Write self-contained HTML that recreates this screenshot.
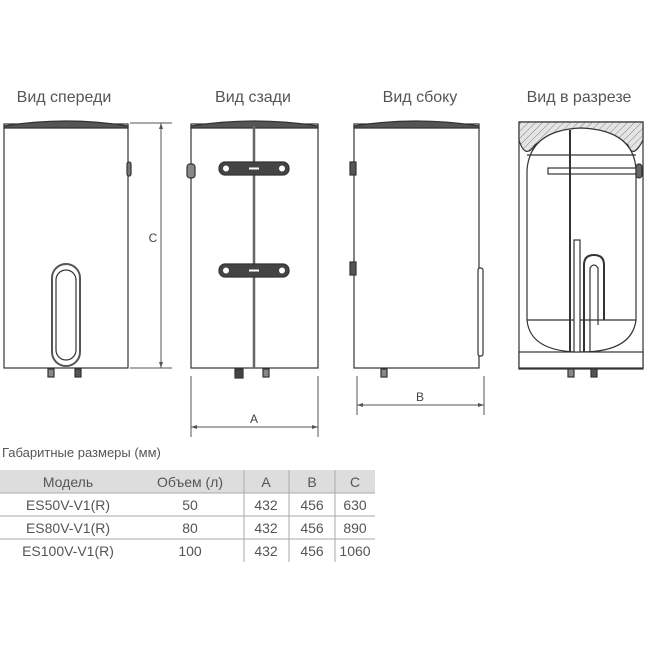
<!DOCTYPE html>
<html><head><meta charset="utf-8"><style>
body{margin:0;background:#fff;}
svg{display:block;font-family:"Liberation Sans","DejaVu Sans",sans-serif;}
</style></head><body>
<svg width="650" height="650" viewBox="0 0 650 650" xmlns="http://www.w3.org/2000/svg">
<defs>
<pattern id="h" width="5" height="5" patternUnits="userSpaceOnUse" patternTransform="rotate(45)"><rect width="5" height="5" fill="#e4e4e4"/><line x1="0" y1="0" x2="0" y2="5" stroke="#888" stroke-width="1"/></pattern>
</defs>
<g font-size="16" fill="#555" text-anchor="middle">
<text x="64" y="102">Вид спереди</text>
<text x="253" y="102">Вид сзади</text>
<text x="420" y="102">Вид сбоку</text>
<text x="579" y="102">Вид в разрезе</text>
</g>
<g stroke="#333" stroke-width="1.2" fill="#fff">
<!-- front -->
<rect x="4" y="124" width="124" height="244"/>
<path d="M4 126 Q66 116 128 126 L128 128 L4 128Z" fill="#555"/>
<rect x="127" y="162" width="4" height="14" rx="2" fill="#777"/>
<rect x="52" y="264" width="28" height="102" rx="14" stroke-width="2" stroke="#555"/>
<rect x="56" y="270" width="20" height="90" rx="10"/>
<rect x="48" y="369" width="6" height="8" fill="#888"/><rect x="75" y="369" width="6" height="8" fill="#555"/>
<!-- back -->
<rect x="191" y="124" width="127" height="244"/>
<path d="M191 126 Q254 116 318 126 L318 128 L191 128Z" fill="#555"/>
<line x1="254" y1="126" x2="254" y2="368" stroke-width="2.5" stroke="#666"/>
<rect x="187" y="164" width="8" height="14" rx="3" fill="#888"/>
<rect x="219" y="162" width="70" height="13" rx="6" fill="#444"/>
<rect x="219" y="264" width="70" height="13" rx="6" fill="#444"/>
<rect x="235" y="369" width="8" height="9" fill="#444"/><rect x="263" y="369" width="6" height="8" fill="#888"/>
<!-- side -->
<rect x="354" y="124" width="125" height="244"/>
<path d="M354 126 Q416 116 479 126 L479 128 L354 128Z" fill="#555"/>
<rect x="350" y="162" width="6" height="13" fill="#555"/>
<rect x="350" y="262" width="6" height="13" fill="#555"/>
<rect x="478" y="268" width="5" height="88" rx="2"/>
<rect x="381" y="369" width="6" height="8" fill="#888"/>
<!-- section -->
<rect x="519" y="122" width="124" height="247"/>
<path d="M519 122 L643 122 L643 140 Q633 160 628 145 Q580 112 535 145 Q525 160 519 140Z" fill="url(#h)"/>
<path d="M527 170 Q530 130 581 128 Q634 130 636 170 L636 320 Q632 352 581 352 Q530 352 527 320Z" fill="#fff"/>
<line x1="527" y1="155" x2="636" y2="155"/>
<line x1="527" y1="320" x2="636" y2="320"/>
<rect x="519" y="352" width="124" height="16" fill="#fff"/>
<rect x="548" y="168" width="88" height="6" fill="#fff"/>
<rect x="636" y="164" width="6" height="14" rx="3" fill="#666"/>
<line x1="570" y1="130" x2="570" y2="352" stroke-width="2"/>
<rect x="574" y="240" width="6" height="112"/>
<path d="M584 352 L584 265 Q584 255 594 255 Q604 255 604 265 L604 320" fill="none" stroke-width="2"/>
<path d="M590 352 L590 268 Q594 262 598 268 L598 325" fill="none"/>
<rect x="568" y="369" width="6" height="8" fill="#888"/><rect x="591" y="369" width="6" height="8" fill="#555"/>
</g>
<g fill="#fff">
<circle cx="226" cy="168.5" r="3"/><circle cx="282" cy="168.5" r="3"/><rect x="249" y="167.5" width="10" height="2"/>
<circle cx="226" cy="270.5" r="3"/><circle cx="282" cy="270.5" r="3"/><rect x="249" y="269.5" width="10" height="2"/>
</g>
<g stroke="#555" stroke-width="1" fill="none">
<line x1="130" y1="123" x2="172" y2="123"/><line x1="130" y1="368" x2="172" y2="368"/>
<line x1="161" y1="123" x2="161" y2="368"/>
<line x1="191" y1="376" x2="191" y2="437"/><line x1="318" y1="376" x2="318" y2="437"/>
<line x1="191" y1="427" x2="318" y2="427"/>
<line x1="357" y1="376" x2="357" y2="415"/><line x1="484" y1="376" x2="484" y2="415"/>
<line x1="357" y1="405" x2="484" y2="405"/>
</g>
<g fill="#555">
<path d="M161 123 l-2 6 h4z"/><path d="M161 368 l-2 -6 h4z"/>
<path d="M191 427 l6 -2 v4z"/><path d="M318 427 l-6 -2 v4z"/>
<path d="M357 405 l6 -2 v4z"/><path d="M484 405 l-6 -2 v4z"/>
</g>
<g font-size="12" fill="#444" text-anchor="middle">
<text x="153" y="242">C</text><text x="254" y="423">A</text><text x="420" y="401">B</text>
</g>
<text x="2" y="457" font-size="13" fill="#555">Габаритные размеры (мм)</text>
<rect x="0" y="470" width="375" height="23" fill="#ddd"/>
<g stroke="#aaa" stroke-width="1">
<line x1="0" y1="493" x2="375" y2="493"/><line x1="0" y1="516" x2="375" y2="516"/><line x1="0" y1="539" x2="375" y2="539"/>
<line x1="244" y1="470" x2="244" y2="562"/><line x1="289" y1="470" x2="289" y2="562"/><line x1="335" y1="470" x2="335" y2="562"/>
</g>
<g font-size="14" fill="#555" text-anchor="middle">
<text x="68" y="487">Модель</text><text x="190" y="487">Объем (л)</text><text x="266" y="487">A</text><text x="312" y="487">B</text><text x="355" y="487">C</text>
<text x="68" y="510">ES50V-V1(R)</text><text x="190" y="510">50</text><text x="266" y="510">432</text><text x="312" y="510">456</text><text x="355" y="510">630</text>
<text x="68" y="533">ES80V-V1(R)</text><text x="190" y="533">80</text><text x="266" y="533">432</text><text x="312" y="533">456</text><text x="355" y="533">890</text>
<text x="68" y="556">ES100V-V1(R)</text><text x="190" y="556">100</text><text x="266" y="556">432</text><text x="312" y="556">456</text><text x="355" y="556">1060</text>
</g>
</svg>
</body></html>
